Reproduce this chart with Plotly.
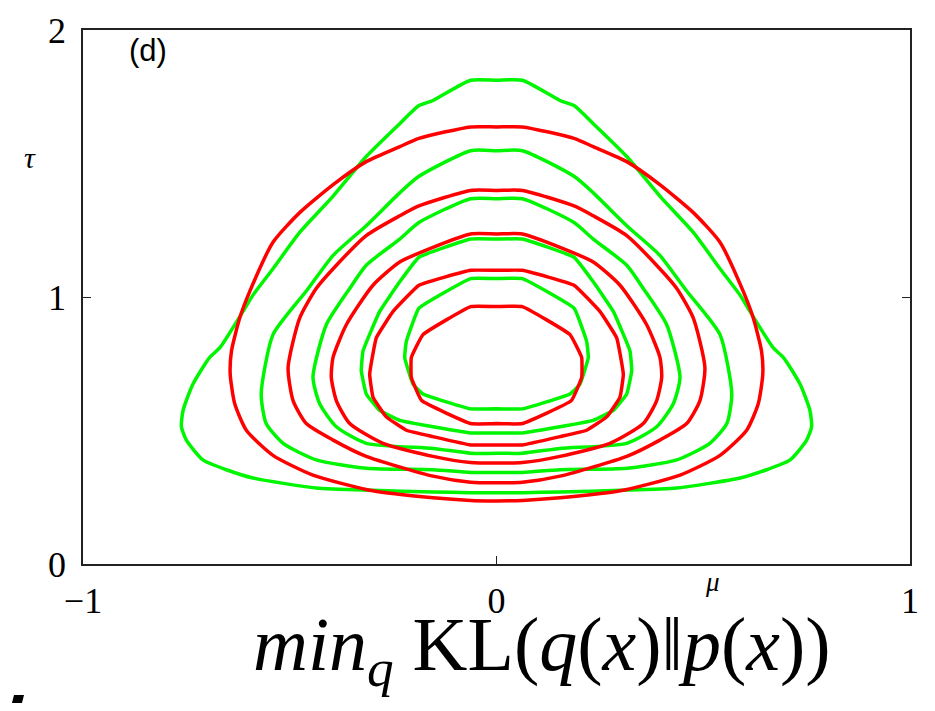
import plotly.graph_objects as go

# contour lines, right half only (mu >= 0),
# going from the top of each loop (mu = 0) clockwise to its bottom (mu = 0)
green_mu = [
    [0, 0.0625, 0.1536, 0.1875, 0.234, 0.315, 0.395, 0.476, 0.5405, 0.589, 0.613, 0.669, 0.694, 0.734, 0.758, 0.762, 0.750, 0.710, 0.653, 0.589, 0.436, 0.30, 0.1536, 0.0625, 0],
    [0, 0.0625, 0.1875, 0.234, 0.315, 0.395, 0.458, 0.5405, 0.569, 0.557, 0.516, 0.436, 0.315, 0.1536, 0.0625, 0],
    [0, 0.0625, 0.1875, 0.234, 0.315, 0.355, 0.4116, 0.4438, 0.4276, 0.3874, 0.315, 0.1536, 0.0625, 0],
    [0, 0.0625, 0.1875, 0.234, 0.2825, 0.3229, 0.327, 0.3149, 0.2825, 0.234, 0.1536, 0.0625, 0],
    [0, 0.0625, 0.1875, 0.218, 0.222, 0.2019, 0.1778, 0.0625, 0],
]
green_tau = [
    [1.812, 1.812, 1.736, 1.717, 1.649, 1.526, 1.378, 1.242, 1.106, 1.007, 0.946, 0.81, 0.773, 0.674, 0.575, 0.514, 0.464, 0.39, 0.353, 0.322, 0.285, 0.276, 0.27, 0.267, 0.267],
    [1.548, 1.548, 1.452, 1.39, 1.267, 1.156, 1.026, 0.859, 0.637, 0.526, 0.452, 0.39, 0.359, 0.353, 0.343, 0.343],
    [1.368, 1.368, 1.279, 1.217, 1.119, 1.032, 0.896, 0.699, 0.6, 0.514, 0.452, 0.433, 0.415, 0.415],
    [1.217, 1.217, 1.149, 1.057, 0.946, 0.797, 0.723, 0.637, 0.575, 0.538, 0.514, 0.491, 0.491],
    [1.069, 1.069, 0.958, 0.834, 0.773, 0.674, 0.637, 0.581, 0.581],
]
red_mu = [
    [0, 0.0625, 0.1875, 0.234, 0.315, 0.395, 0.476, 0.5405, 0.597, 0.621, 0.641, 0.644, 0.633, 0.605, 0.5405, 0.444, 0.299, 0.1536, 0.0625, 0],
    [0, 0.0625, 0.1875, 0.234, 0.315, 0.395, 0.436, 0.476, 0.504, 0.492, 0.46, 0.395, 0.315, 0.1536, 0.0625, 0],
    [0, 0.0625, 0.1536, 0.234, 0.2987, 0.3632, 0.3954, 0.3995, 0.3874, 0.355, 0.2745, 0.1536, 0.0625, 0],
    [0, 0.0625, 0.1875, 0.25, 0.2907, 0.3067, 0.2987, 0.2665, 0.218, 0.1536, 0.0625, 0],
    [0, 0.0625, 0.1778, 0.206, 0.206, 0.181, 0.0625, 0],
]
red_tau = [
    [1.637, 1.637, 1.594, 1.563, 1.507, 1.421, 1.316, 1.205, 1.02, 0.921, 0.797, 0.711, 0.6, 0.501, 0.407, 0.333, 0.274, 0.248, 0.238, 0.236],
    [1.399, 1.399, 1.341, 1.304, 1.23, 1.106, 1.032, 0.921, 0.736, 0.612, 0.526, 0.464, 0.403, 0.329, 0.306, 0.304],
    [1.236, 1.236, 1.186, 1.131, 1.044, 0.896, 0.773, 0.699, 0.612, 0.526, 0.452, 0.403, 0.38, 0.378],
    [1.1, 1.1, 1.044, 0.946, 0.847, 0.711, 0.625, 0.551, 0.501, 0.477, 0.446, 0.446],
    [0.964, 0.964, 0.859, 0.773, 0.699, 0.612, 0.526, 0.526],
]

x_ticks = [-1, 0, 1]
y_ticks = [0, 1, 2]

fig = go.Figure()


def add_loop(mu, tau, color, smooth):
    # mirror the right half to close the loop
    xs = mu + [-m for m in mu[::-1]]
    ys = tau + tau[::-1]
    fig.add_trace(go.Scatter(x=xs, y=ys, mode='lines',
                             line=dict(color=color, width=3.5, shape='spline', smoothing=smooth),
                             hoverinfo='skip', showlegend=False))


for i in range(len(green_mu)):
    add_loop(green_mu[i], green_tau[i], 'rgb(0,245,0)', 0.6 if i < 3 else 0.3)
for i in range(len(red_mu)):
    add_loop(red_mu[i], red_tau[i], 'rgb(255,0,0)', 0.6 if i < 3 else 0.3)

serif = 'Liberation Serif, DejaVu Serif, serif'

fig.update_xaxes(range=[-1, 1], tickvals=x_ticks, ticktext=['\u22121', '0', '1'], automargin=False,
                 showgrid=False, zeroline=False, showline=True, linecolor='#222', linewidth=1.5,
                 mirror=True, ticks='inside', ticklen=8, tickcolor='#222',
                 tickfont=dict(family=serif, size=36, color='black'), ticklabelstandoff=4)
fig.update_yaxes(range=[0, 2], tickvals=y_ticks, automargin=False,
                 showgrid=False, zeroline=False, showline=True, linecolor='#222', linewidth=1.5,
                 mirror='ticks', ticks='inside', ticklen=8, tickcolor='#222',
                 tickfont=dict(family=serif, size=36, color='black'), ticklabelstandoff=8)

fig.add_annotation(text='(d)', x=0.079, y=0.9625, xref='paper', yref='paper', showarrow=False,
                   xanchor='center', yanchor='middle',
                   font=dict(family='Liberation Sans, Arial, sans-serif', size=31, color='black'))
fig.add_annotation(text='<i>\u03c4</i>', x=-0.064, y=0.762, xref='paper', yref='paper', showarrow=False,
                   xanchor='center', yanchor='middle',
                   font=dict(family=serif, size=30, color='black'))
fig.add_annotation(text='<i>\u03bc</i>', x=0.761, y=-0.034, xref='paper', yref='paper', showarrow=False,
                   xanchor='center', yanchor='middle',
                   font=dict(family=serif, size=27, color='black'))
fig.add_annotation(text='<i>min</i><sub><i>q</i></sub> KL(<i>q</i>(<i>x</i>)\u2016<i>p</i>(<i>x</i>))',
                   x=0.555, y=-0.067, xref='paper', yref='paper', xanchor='center', yanchor='top',
                   showarrow=False, font=dict(family=serif, size=76, color='black'))

# small cropped glyph at the lower-left corner of the source image
fig.add_shape(type='path', xref='paper', yref='paper',
              path='M -0.0859 -0.2603 L -0.0738 -0.2603 L -0.0713 -0.2453 L -0.0834 -0.2453 Z',
              fillcolor='black', line=dict(width=0))

fig.update_layout(width=919, height=695, plot_bgcolor='white', paper_bgcolor='white',
                  margin=dict(l=75, r=17, t=22, b=139, autoexpand=False))

fig.write_html("out.html", config={'displayModeBar': False})
